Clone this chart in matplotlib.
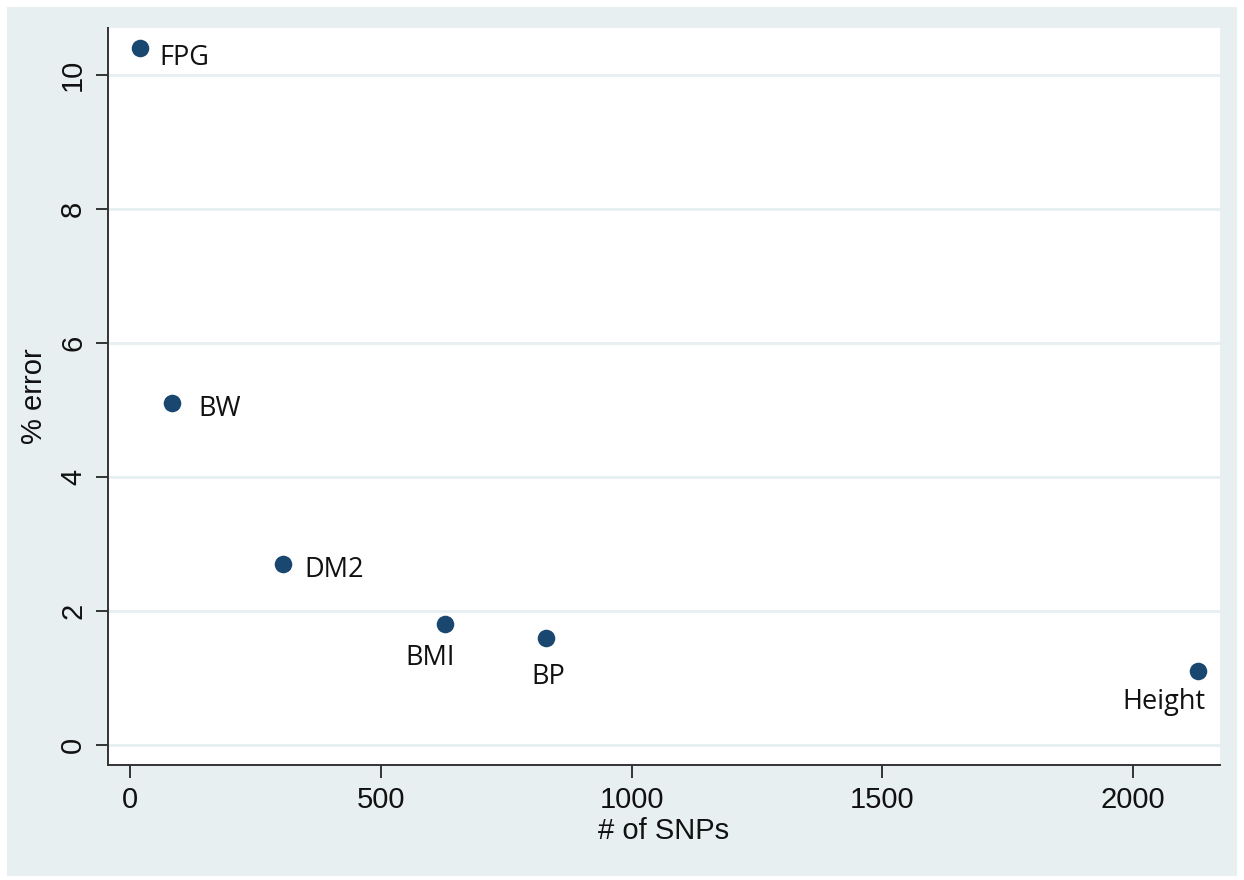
import matplotlib
matplotlib.use('Agg')
import matplotlib.pyplot as plt
from matplotlib.patches import Rectangle

traits = ['FPG', 'BW', 'DM2', 'BMI', 'BP', 'Height']
n_snps = [20, 84, 305, 628, 830, 2130]
pct_error = [10.4, 5.1, 2.7, 1.8, 1.6, 1.1]
# label offsets from the dot, in points
label_dx = [14, 19, 15, -11, 1, -25]
label_dy = [-7, -4, -4, -14, -18, -12]
label_pos = ['right', 'right', 'right', 'below', 'below', 'below']

x_ticks = [0, 500, 1000, 1500, 2000]
y_ticks = [0, 2, 4, 6, 8, 10]

dot_color = '#1a476f'
bg_color = '#e8eff1'
grid_color = '#e6eff1'

fig = plt.figure(figsize=(12.44, 8.8), dpi=100, facecolor='white')
fig.patches.append(Rectangle((7 / 1244, 4 / 880), 1230 / 1244, 869 / 880,
                             transform=fig.transFigure, facecolor=bg_color,
                             edgecolor='none', zorder=-10))
ax = fig.add_axes([108 / 1244, 115 / 880, 1112 / 1244, 737 / 880])
ax.set_facecolor('white')

ax.scatter(n_snps, pct_error, s=160, color=dot_color, zorder=3, linewidths=0)

for name, x, y, dx, dy, pos in zip(traits, n_snps, pct_error, label_dx, label_dy, label_pos):
    ha = 'left' if pos == 'right' else 'center'
    va = 'center' if pos == 'right' else 'top'
    ax.annotate(name, (x, y), xytext=(dx, dy), textcoords='offset points',
                ha=ha, va=va, fontsize=19.5, family='Open Sans', color='#111111')

ax.set_xlim(-44, 2173)
ax.set_ylim(-0.3, 10.7)
ax.set_xticks(x_ticks)
ax.set_yticks(y_ticks)
ax.set_yticklabels([str(t) for t in y_ticks], rotation=90, va='center')

for t in y_ticks:
    ax.axhline(t, color=grid_color, linewidth=2, zorder=0)

for side in ['top', 'right']:
    ax.spines[side].set_visible(False)
for side in ['left', 'bottom']:
    ax.spines[side].set_linewidth(1.4)
    ax.spines[side].set_color('#333333')

ax.tick_params(axis='both', length=9, width=1.4, color='#333333',
               labelsize=21, pad=6, labelcolor='#111111')
for lab in ax.get_xticklabels() + ax.get_yticklabels():
    lab.set_family('Liberation Sans')

ax.set_xlabel('# of SNPs', fontsize=21, family='Liberation Sans', labelpad=2, color='#111111')
ax.set_ylabel('% error', fontsize=21, family='Liberation Sans', labelpad=8, color='#111111')

fig.savefig('out.png', dpi=100, facecolor=fig.get_facecolor())
